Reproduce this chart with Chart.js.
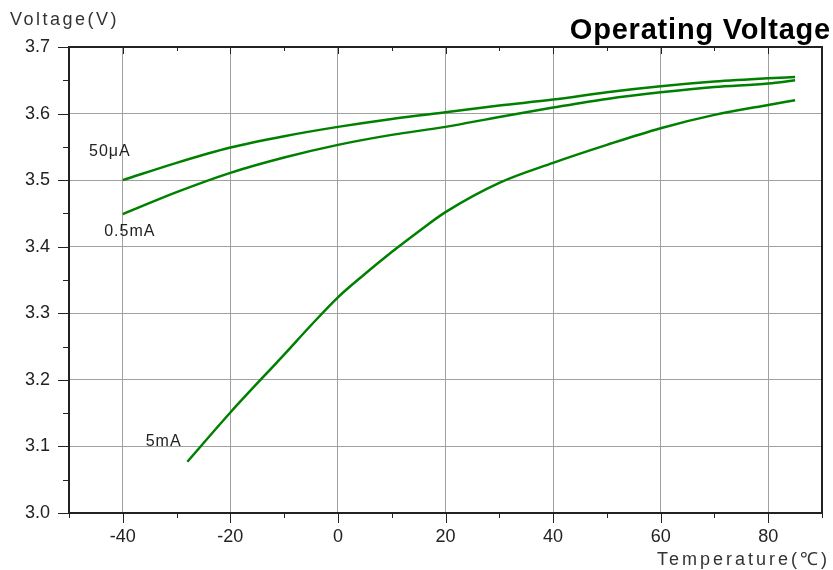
<!DOCTYPE html>
<html>
<head>
<meta charset="utf-8">
<title>Operating Voltage</title>
<script src="https://cdn.jsdelivr.net/npm/chart.js@4.4.1/dist/chart.umd.min.js"></script>
<style>
    html, body { margin: 0; padding: 0; background: #ffffff; }
    #wrap { width: 833px; height: 570px; }
</style>
</head>
<body>
<div id="wrap"><canvas id="voltageChart" width="833" height="570"></canvas></div>
<script>
// Operating voltage vs. temperature for three load currents

const temps50uA = [-40, -30, -20, -10, 0, 10, 20, 30, 40, 50, 60, 70, 80, 85];
const volts50uA = [3.500, 3.526, 3.549, 3.566, 3.580, 3.592, 3.602, 3.612, 3.621, 3.632, 3.641, 3.648, 3.653, 3.655];

const temps05mA = [-40, -30, -20, -10, 0, 10, 20, 30, 40, 50, 60, 70, 80, 85];
const volts05mA = [3.449, 3.482, 3.511, 3.534, 3.553, 3.568, 3.580, 3.595, 3.609, 3.622, 3.632, 3.640, 3.645, 3.650];

const temps5mA = [-28, -20, -10, -5, 0, 5, 10, 15, 20, 30, 40, 50, 60, 70, 80, 85];
const volts5mA = [3.077, 3.151, 3.238, 3.282, 3.324, 3.359, 3.392, 3.423, 3.452, 3.496, 3.526, 3.553, 3.578, 3.598, 3.613, 3.620];

const seriesNames = ['50\u03bcA', '0.5mA', '5mA'];
// where each series name sits, in data units (temperature, voltage)
const nameTemps = [-42.4, -38.7, -32.4];
const nameVolts = [3.543, 3.422, 3.107];

const xTickVals = [-40, -20, 0, 20, 40, 60, 80];
const yTickVals = [3.0, 3.1, 3.2, 3.3, 3.4, 3.5, 3.6, 3.7];

const FONT = '"Liberation Sans", Arial, sans-serif';
const LINE_GREEN = '#008000';

function toPoints(xs, ys) {
    return xs.map((x, i) => ({ x: x, y: ys[i] }));
}

// frame, small tick marks and the free-standing texts
const decorPlugin = {
    id: 'decor',
    afterDatasetsDraw(chart) {
        const ctx = chart.ctx;
        const area = chart.chartArea;
        const xs = chart.scales.x;
        const ys = chart.scales.y;

        ctx.save();
        ctx.strokeStyle = '#222222';
        ctx.lineWidth = 1;

        // y ticks, pointing out to the left
        for (let v = ys.min; v <= ys.max + 1e-9; v += 0.05) {
            const py = Math.round(ys.getPixelForValue(v)) + 0.5;
            const major = Math.abs(v * 10 - Math.round(v * 10)) < 1e-6;
            ctx.beginPath();
            ctx.moveTo(area.left, py);
            ctx.lineTo(area.left - (major ? 11 : 6), py);
            ctx.stroke();
        }
        // x ticks, below the bottom edge and inside the top edge
        for (let v = xs.min; v <= xs.max; v += 10) {
            const px = Math.round(xs.getPixelForValue(v)) + 0.5;
            const major = v % 20 === 0;
            ctx.beginPath();
            ctx.moveTo(px, area.bottom);
            ctx.lineTo(px, area.bottom + (major ? 10 : 5));
            ctx.moveTo(px, area.top);
            ctx.lineTo(px, area.top + (major ? 7 : 4));
            ctx.stroke();
        }

        // frame
        ctx.lineWidth = 2;
        ctx.strokeRect(area.left, area.top, area.right - area.left, area.bottom - area.top);

        // series names
        ctx.fillStyle = '#222222';
        ctx.font = '16px ' + FONT;
        ctx.letterSpacing = '1px';
        ctx.textAlign = 'center';
        ctx.textBaseline = 'middle';
        seriesNames.forEach((name, i) => {
            ctx.fillText(name, xs.getPixelForValue(nameTemps[i]), ys.getPixelForValue(nameVolts[i]));
        });

        // axis titles
        ctx.font = '18px ' + FONT;
        ctx.letterSpacing = '2.5px';
        ctx.fillStyle = '#333333';
        ctx.textAlign = 'left';
        ctx.fillText('Voltage(V)', 10, 20);
        ctx.letterSpacing = '3px';
        ctx.textAlign = 'right';
        ctx.fillText('Temperature(\u2103)', 830, 560);

        // title
        ctx.letterSpacing = '0.8px';
        ctx.fillStyle = '#000000';
        ctx.font = 'bold 29px ' + FONT;
        ctx.textBaseline = 'alphabetic';
        ctx.fillText('Operating Voltage', 831, 39);
        ctx.restore();
    }
};

function lineDataset(label, xs, ys) {
    return {
        label: label,
        data: toPoints(xs, ys),
        borderColor: LINE_GREEN,
        backgroundColor: LINE_GREEN,
        borderWidth: 2.5,
        pointRadius: 0,
        cubicInterpolationMode: 'monotone',
        fill: false
    };
}

const ctx = document.getElementById('voltageChart').getContext('2d');
const chart = new Chart(ctx, {
    type: 'line',
    data: {
        datasets: [
            lineDataset(seriesNames[0], temps50uA, volts50uA),
            lineDataset(seriesNames[1], temps05mA, volts05mA),
            lineDataset(seriesNames[2], temps5mA, volts5mA)
        ]
    },
    options: {
        responsive: false,
        animation: false,
        layout: {
            padding: { top: 47, right: 11, left: 0, bottom: 0 }
        },
        plugins: {
            legend: { display: false },
            title: { display: false },
            tooltip: { enabled: false }
        },
        scales: {
            x: {
                type: 'linear',
                min: -50,
                max: 90,
                afterBuildTicks: scale => {
                    scale.ticks = xTickVals.map(v => ({ value: v }));
                },
                afterFit: scale => { scale.height = 57; },
                grid: { color: '#a0a0a0', lineWidth: 1, drawTicks: false },
                border: { display: false },
                ticks: {
                    padding: 13,
                    color: '#222222',
                    font: { family: FONT, size: 18 },
                    maxRotation: 0
                }
            },
            y: {
                type: 'linear',
                min: 3.0,
                max: 3.7,
                afterBuildTicks: scale => {
                    scale.ticks = yTickVals.map(v => ({ value: v }));
                },
                afterFit: scale => { scale.width = 69; },
                grid: { color: '#a0a0a0', lineWidth: 1, drawTicks: false },
                border: { display: false },
                ticks: {
                    padding: 19,
                    color: '#222222',
                    font: { family: FONT, size: 18 },
                    callback: value => value.toFixed(1)
                }
            }
        }
    },
    plugins: [decorPlugin]
});
</script>
</body>
</html>
